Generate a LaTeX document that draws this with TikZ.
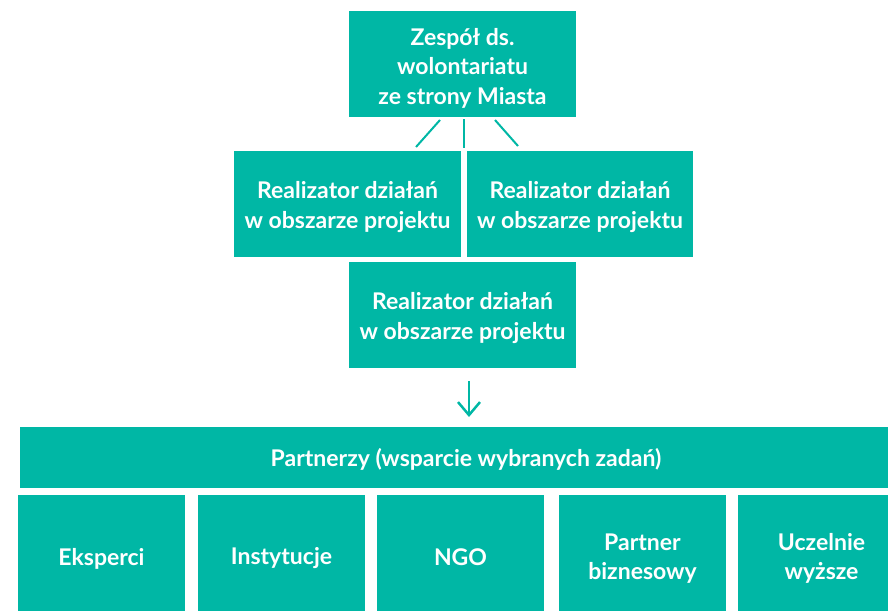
\documentclass[tikz,border=0pt]{standalone}
\usepackage{fontspec}
\setmainfont{Lato}
\usetikzlibrary{arrows.meta}
\definecolor{teal1}{RGB}{0,183,165}
\begin{document}
\begin{tikzpicture}[x=1pt,y=-1pt,
  box/.style={fill=teal1,draw=none,inner sep=0pt,anchor=center},
  txt/.style={text=white,font=\fontsize{23}{29.5}\selectfont\bfseries,align=center,inner sep=0pt,anchor=center},
  conn/.style={draw=teal1,line width=2pt},
]
\useasboundingbox (0,0) rectangle (888,610);
\clip (0,0) rectangle (888,610);
\node[box,minimum width=227pt,minimum height=106pt] (top) at (462.5,64) {};
\node[box,minimum width=227pt,minimum height=106pt] (r1) at (347.5,204) {};
\node[box,minimum width=226pt,minimum height=106pt] (r2) at (580,204) {};
\node[box,minimum width=227pt,minimum height=106pt] (r3) at (462.5,315) {};
\node[box,minimum width=880pt,minimum height=61pt] (part) at (460,457.5) {};
\node[box,minimum width=167pt,minimum height=125pt] (b1) at (101.5,557.5) {};
\node[box,minimum width=167pt,minimum height=125pt] (b2) at (281.5,557.5) {};
\node[box,minimum width=167pt,minimum height=125pt] (b3) at (460.5,557.5) {};
\node[box,minimum width=167pt,minimum height=125pt] (b4) at (642.5,557.5) {};
\node[box,minimum width=167pt,minimum height=125pt] (b5) at (821.5,557.5) {};
\node[txt] (topt) at ([yshift=-4pt]top.center) {Zespół ds.\\wolontariatu\\ze strony Miasta};
\node[txt] (r1t) at ([yshift=-3pt]r1.center) {Realizator działań\\w obszarze projektu};
\node[txt] (r2t) at ([yshift=-3pt]r2.center) {Realizator działań\\w obszarze projektu};
\node[txt] (r3t) at ([yshift=-3pt]r3.center) {Realizator działań\\w obszarze projektu};
\node[txt] (partt) at ([yshift=-2pt]466,457.5) {Partnerzy (wsparcie wybranych zadań)};
\node[txt] (b1t) at ([yshift=-1pt]b1.center) {Eksperci};
\node[txt] (b2t) at ([yshift=-1pt]b2.center) {Instytucje};
\node[txt] (b3t) at (b3.center) {NGO};
\node[txt] (b4t) at ([yshift=-1pt]b4.center) {Partner\\biznesowy};
\node[txt] (b5t) at ([yshift=-1pt]b5.center) {Uczelnie\\wyższe};
\coordinate (la) at (440,120); \coordinate (lb) at (416,147);
\coordinate (ma) at (464,119); \coordinate (mb) at (464,148);
\coordinate (ra) at (495,120); \coordinate (rb) at (518,146);
\coordinate (aa) at (469,381); \coordinate (ab) at (469,417);
\draw[conn] (la) -- (lb);
\draw[conn] (ma) -- (mb);
\draw[conn] (ra) -- (rb);
\draw[conn,-{Straight Barb[length=13pt,width=22pt,line width=2.5pt]}] (aa) -- (ab);
\end{tikzpicture}
\end{document}
